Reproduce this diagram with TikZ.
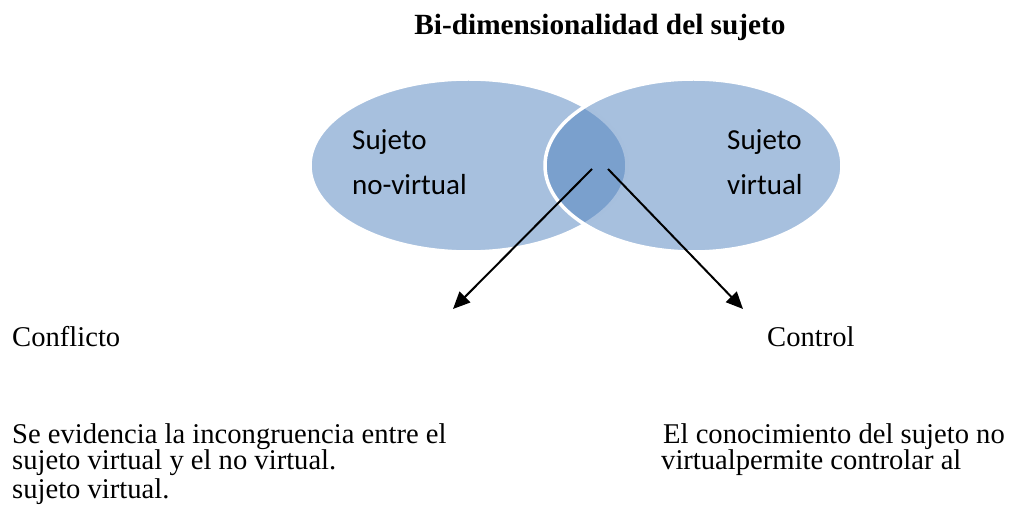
\documentclass[tikz,border=0pt]{standalone}
\usepackage{fontspec}
\usetikzlibrary{shapes.geometric,arrows.meta}
\newfontfamily\tnrfont{Liberation Serif}
\newfontfamily\calfont{Carlito}
\definecolor{vennblue}{RGB}{79,129,189}
\tikzset{
  venn/.style={ellipse, inner sep=0pt, outer sep=0pt, fill=vennblue, fill opacity=0.5, draw=white, draw opacity=1, line width=3.5pt},
  txt/.style={inner sep=0pt, anchor=base west, font=\tnrfont\fontsize{28.6}{27.5}\selectfont},
  ttl/.style={inner sep=0pt, anchor=base, font=\tnrfont\bfseries\fontsize{29.3}{27.5}\selectfont},
  lab/.style={inner sep=0pt, anchor=base west, font=\calfont\fontsize{29}{27.5}\selectfont},
  arr/.style={line width=2pt, -{Triangle[length=17pt,width=15pt]}}
}
\begin{document}
\begin{tikzpicture}[x=1pt,y=-1pt]
\useasboundingbox (0,0) rectangle (1015,510);
\node[ttl] (title) at (600,35) {Bi-dimensionalidad del sujeto};
\node[venn, minimum width=317pt, minimum height=173pt] (left) at (468.5,165.5) {};
\node[venn, minimum width=297pt, minimum height=173pt] (right) at (693.5,165.5) {};
\node[lab] (la) at (352,150) {Sujeto};
\node[lab] (lb) at (352,195) {no-virtual};
\node[lab] (ra) at (727,150) {Sujeto};
\node[lab] (rb) at (727,195) {virtual};
\coordinate (s1) at (592,169);
\coordinate (t1) at (453,309);
\coordinate (s2) at (608,169);
\coordinate (t2) at (743,309);
\draw[arr] (s1) -- (t1);
\draw[arr] (s2) -- (t2);
\node[txt] (conf) at (12,347) {Conflicto};
\node[txt] (cont) at (767,347) {Control};
\node[txt] (l1) at (12,443) {Se evidencia la incongruencia entre el};
\node[txt] (l2) at (12,470) {sujeto virtual y el no virtual.};
\node[txt] (l3) at (12,498) {sujeto virtual.};
\node[txt] (r1) at (663,443) {El conocimiento del sujeto no};
\node[txt] (r2) at (661,470) {virtualpermite controlar al};
\end{tikzpicture}
\end{document}
